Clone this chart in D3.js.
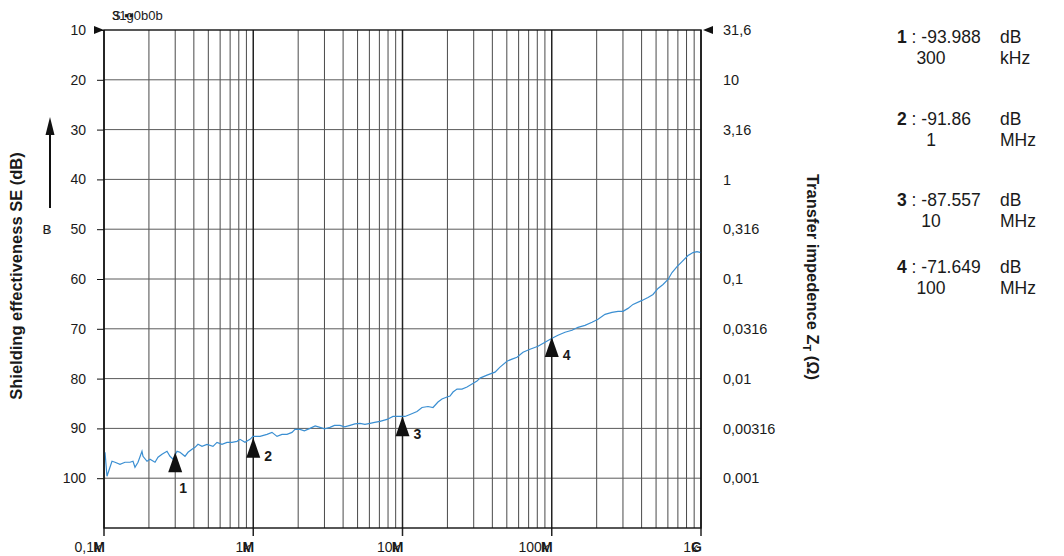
<!DOCTYPE html>
<html><head><meta charset="utf-8">
<script src="https://cdn.jsdelivr.net/npm/d3@7"></script>
<style>body{margin:0;background:#fff} text{font-family:"Liberation Sans",Arial,Helvetica,sans-serif;fill:#1a1a1a}</style>
</head><body><svg id="c" width="1064" height="556"></svg>
<script>
// ---- data ----
const freqMHz = [0.1016,0.1047,0.1131,0.1185,0.1280,0.1382,0.1494,0.1564,0.1613,0.1690,0.1797,0.1825,0.1942,0.2033,0.2197,0.2301,0.2447,0.2643,0.2768,0.2900,0.3084,0.3230,0.3488,0.3655,0.3888,0.4072,0.4264,0.4535,0.4898,0.5374,0.5716,0.6174,0.6670,0.7204,0.7783,0.8151,0.8805,0.9511,0.996,1.110,1.236,1.335,1.443,1.558,1.683,1.818,1.904,2.057,2.200,2.400,2.600,2.801,3.000,3.268,3.500,3.813,4.100,4.449,4.800,5.191,5.600,6.057,6.500,7.067,7.874,8.637,9.621,10.39,11.22,12.51,13.51,14.82,16.01,17.29,18.39,19.87,20.81,21.80,23.19,25.04,27.05,29.22,31.56,33.06,36.83,41.67,45.01,50.13,54.16,58.51,64.18,71.51,80.90,90.13,100.4,110.1,122.7,136.7,149.9,167.0,186.1,204.2,227.5,253.4,277.9,300.2,324.3,350.3,402.5,441.5,476.9,515.2,556.6,601.2,639.5,690.8,746.3,818.3,884.0,940.2,1000];
const seDb = [94.8,99.6,96.6,96.8,97.2,96.8,96.8,96.6,97.8,96.8,94.6,95.6,96.6,96.2,96.8,95.8,95.2,94.6,95.6,96.2,94.6,94.8,95.6,94.8,94.2,93.8,93.2,93.6,93.2,93.6,92.8,93.2,92.8,92.8,92.6,92.2,92.8,92.2,91.6,91.6,91.2,90.8,91.6,91.2,91.2,90.8,90.2,90.2,90.5,90.0,89.5,89.8,90.1,89.8,89.4,89.4,89.7,89.4,89.1,89.0,89.2,89.0,88.8,88.6,88.2,87.6,87.6,87.6,87.2,86.6,85.8,85.6,85.8,84.7,84.1,83.7,83.5,82.7,82.1,82.1,81.7,81.1,80.5,79.9,79.3,78.7,77.7,76.5,76.1,75.7,74.7,74.1,73.5,72.7,71.9,71.3,70.7,70.3,69.7,69.3,68.7,68.1,67.1,66.7,66.5,66.5,65.9,65.1,64.3,63.7,63.1,61.9,61.1,60.1,58.7,57.5,56.5,55.3,54.7,54.5,54.7];
const yTicks = [10,20,30,40,50,60,70,80,90,100];
const rightTickLabels = ["31,6","10","3,16","1","0,316","0,1","0,0316","0,01","0,00316","0,001"];
const xDecades = [0.1,1,10,100,1000];
const xTickLabels = ["0,1","1","10","100","1"];
const xTickUnits = ["M","M","M","M","G"];
const markerIds = [1,2,3,4];
const markerFreqMHz = [0.3,1,10,100];
const markerSe = [93.988,91.86,87.557,71.649];
const markerFreqText = ["300","1","10","100"];
const markerFreqUnit = ["kHz","MHz","MHz","MHz"];

// ---- layout ----
const svg = d3.select("#c");
const L = 104, R = 701, T = 30, B = 528;
const x = d3.scaleLog().domain([0.1, 1000]).range([L, R]);
const y = d3.scaleLinear().domain([10, 110]).range([T, B]);

// grid
const minor = [];
for (let d = 0; d < xDecades.length - 1; d++)
  for (let k = 2; k <= 9; k++) minor.push(xDecades[d] * k);
const g = svg.append("g");
g.selectAll(".mn").data(minor).join("line")
  .attr("x1", d => x(d)).attr("x2", d => x(d)).attr("y1", T).attr("y2", B)
  .attr("stroke", "#4a4a4a").attr("stroke-width", 1);
g.selectAll(".hz").data(yTicks.slice(1)).join("line")
  .attr("x1", L).attr("x2", R).attr("y1", d => y(d)).attr("y2", d => y(d))
  .attr("stroke", "#5a5a5a").attr("stroke-width", 1);
g.selectAll(".mj").data(xDecades).join("line")
  .attr("x1", d => x(d)).attr("x2", d => x(d)).attr("y1", T).attr("y2", B + 8)
  .attr("stroke", "#222").attr("stroke-width", 1.5);

// data line
const pts = freqMHz.map((f, i) => [f, seDb[i]]);
svg.append("path").datum(pts)
  .attr("d", d3.line().x(d => x(d[0])).y(d => y(d[1])))
  .attr("fill", "none").attr("stroke", "#3b8fd2").attr("stroke-width", 1.2);

// border
svg.append("rect").attr("x", L).attr("y", T).attr("width", R - L).attr("height", B - T)
  .attr("fill", "none").attr("stroke", "#111").attr("stroke-width", 1.4);

// left axis
const yAx = d3.axisLeft(y).tickValues(yTicks).tickSize(7).tickPadding(11);
const ya = svg.append("g").attr("transform", `translate(${L},0)`).call(yAx);
ya.select(".domain").remove();
ya.selectAll("line").attr("stroke", "#111");
ya.selectAll("text").style("font-size", "14px").attr("fill", "#1a1a1a");

// right labels
const yr = d3.scaleOrdinal().domain(yTicks).range(rightTickLabels);
const ra = d3.axisRight(y).tickValues(yTicks).tickSize(0).tickPadding(21).tickFormat(d => yr(d));
const rg = svg.append("g").attr("transform", `translate(${R + 1},0)`).call(ra);
rg.select(".domain").remove();
rg.selectAll("text").style("font-size", "14.5px").attr("fill", "#1a1a1a");

// bottom labels
const bl = svg.append("g");
bl.selectAll("text.xl").data(xDecades).join("text")
  .attr("x", (d, i) => x(d) - 10).attr("y", 552).attr("text-anchor", "end")
  .style("font-size", "14px").text((d, i) => xTickLabels[i]);
bl.selectAll("text.xu").data(xDecades).join("text")
  .attr("x", (d, i) => x(d) + 1).attr("y", 552).attr("text-anchor", "end")
  .style("font-size", "14px").style("font-weight", "bold").text((d, i) => xTickUnits[i]);
bl.selectAll("text.xk").data(xDecades).join("text")
  .attr("x", (d, i) => x(d) - 3).attr("y", 552).attr("text-anchor", "end")
  .style("font-size", "13px").text("k");

// corner markers
svg.append("path").attr("d", `M${L - 10},${T - 4}L${L},${T}L${L - 10},${T + 4}Z`).attr("fill", "#111");
svg.append("path").attr("d", `M${R + 12},${T - 4}L${R + 2},${T}L${R + 12},${T + 4}Z`).attr("fill", "#111");
svg.append("text").attr("x", 112).attr("y", 20).style("font-size", "13px").text("31g0b0b");
svg.append("text").attr("x", 112).attr("y", 20).style("font-size", "13px").text("S  ▪▪");

// left arrow & B
svg.append("line").attr("x1", 50).attr("x2", 50).attr("y1", 208).attr("y2", 132)
  .attr("stroke", "#111").attr("stroke-width", 2);
svg.append("path").attr("d", "M50,117L54.5,135L45.5,135Z").attr("fill", "#111");
svg.append("text").attr("x", 47).attr("y", 234).attr("text-anchor", "middle")
  .style("font-size", "13px").text("B");
svg.append("text").attr("x", 46).attr("y", 234).attr("text-anchor", "middle")
  .style("font-size", "13px").attr("opacity", 0.5).text("8");

// axis titles
svg.append("text").attr("transform", "translate(22,276) rotate(-90)").attr("text-anchor", "middle")
  .style("font-size", "16.5px").style("font-weight", "bold").text("Shielding effectiveness SE (dB)");
const rt = svg.append("text").attr("transform", "translate(807,277) rotate(90)").attr("text-anchor", "middle")
  .style("font-size", "16.5px").style("font-weight", "bold");
rt.append("tspan").text("Transfer impedence Z");
rt.append("tspan").attr("dy", 4).style("font-size", "11px").text("T");
rt.append("tspan").attr("dy", -4).text(" (\u03A9)");

// markers
const mk = svg.append("g");
mk.selectAll("path").data(markerIds).join("path")
  .attr("d", (d, i) => {
    const px = x(markerFreqMHz[i]), py = y(markerSe[i]) + (i === 0 ? 4 : 0);
    return `M${px},${py}L${px + 7},${py + 20}L${px - 7},${py + 20}Z`;
  }).attr("fill", "#111");
mk.selectAll("text").data(markerIds).join("text")
  .attr("x", (d, i) => x(markerFreqMHz[i]) + (i === 0 ? 8 : 15))
  .attr("y", (d, i) => y(markerSe[i]) + (i === 0 ? 45 : 23))
  .attr("text-anchor", "middle").style("font-size", "14px").style("font-weight", "bold")
  .text(d => d);

// legend
const lg = svg.append("g");
const rowY = [43, 125, 206, 273];
markerIds.forEach((id, i) => {
  const t = lg.append("text").attr("x", 897).attr("y", rowY[i]).style("font-size", "17.5px");
  t.append("tspan").style("font-weight", "bold").text(id);
  t.append("tspan").text(" : -" + markerSe[i]);
  lg.append("text").attr("x", 1000).attr("y", rowY[i]).style("font-size", "17.5px").text("dB");
  lg.append("text").attr("x", 931).attr("y", rowY[i] + 21).attr("text-anchor", "middle")
    .style("font-size", "17.5px").text(markerFreqText[i]);
  lg.append("text").attr("x", 1000).attr("y", rowY[i] + 21).style("font-size", "17.5px").text(markerFreqUnit[i]);
});
</script></body></html>
